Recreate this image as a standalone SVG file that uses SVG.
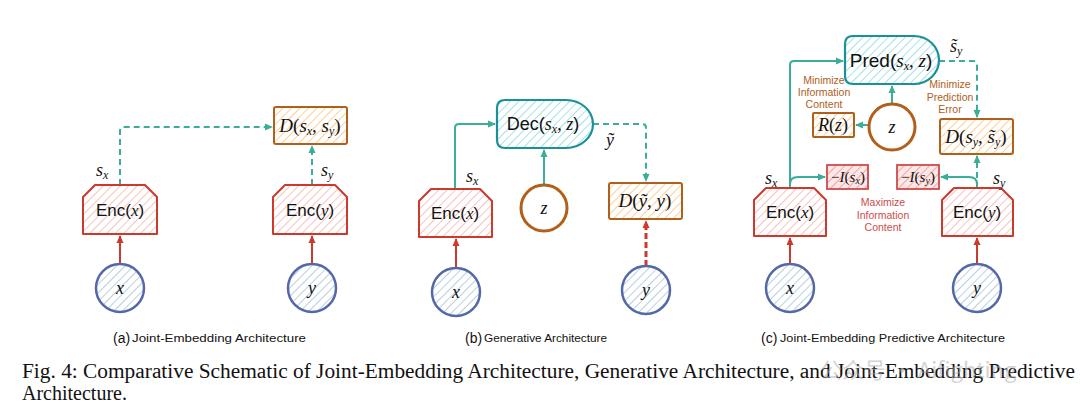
<svg xmlns="http://www.w3.org/2000/svg" width="1080" height="410" viewBox="0 0 1080 410">
<style>
.bg{fill:#fff}
.enc{stroke:#cc3a2e;stroke-width:2;fill:url(#hr);stroke-linejoin:round}
.dec{stroke:#1a9097;stroke-width:2.2;fill:url(#ht)}
.dbox{stroke:#b0601a;stroke-width:2;fill:url(#ho)}
.zc{stroke:#b0601a;stroke-width:3;fill:#fff}
.in{stroke:#5468a8;stroke-width:2.5;fill:url(#hb)}
.ibox{stroke:#d04a4a;stroke-width:1.8;fill:url(#hr2)}
.lt{fill:none;stroke:#3aae98;stroke-width:2}
.ltd{fill:none;stroke:#3aae98;stroke-width:2;stroke-dasharray:6 4}
.lr{fill:none;stroke:#cc3a2e;stroke-width:2}
.lrd{fill:none;stroke:#cc3a2e;stroke-width:3;stroke-dasharray:6 3}
.sans{font-family:"Liberation Sans","DejaVu Sans",sans-serif;fill:#111}
.m{font-family:"Liberation Serif","DejaVu Serif",serif;font-style:italic;fill:#111}
.up{font-style:normal}
.note-o{font-family:"Liberation Sans","DejaVu Sans",sans-serif;font-size:10.5px;fill:#b0601a;text-anchor:middle}
.note-r{font-family:"Liberation Sans","DejaVu Sans",sans-serif;font-size:10.5px;fill:#d04a4a;text-anchor:middle}
.cap{font-family:"Liberation Sans","DejaVu Sans",sans-serif;fill:#111}
.fig{font-family:"Liberation Serif","Times New Roman",serif;font-size:20px;fill:#111}
</style>
<defs>
<pattern id="hr" width="6" height="6" patternUnits="userSpaceOnUse" patternTransform="rotate(45)"><rect width="6" height="6" fill="#fff"/><line x1="0" y1="0" x2="0" y2="6" stroke="#f7c2c0" stroke-width="2"/></pattern>
<pattern id="hr2" width="6" height="6" patternUnits="userSpaceOnUse" patternTransform="rotate(45)"><rect width="6" height="6" fill="#fde7e7"/><line x1="0" y1="0" x2="0" y2="6" stroke="#f2a6a6" stroke-width="2"/></pattern>
<pattern id="ht" width="6" height="6" patternUnits="userSpaceOnUse" patternTransform="rotate(45)"><rect width="6" height="6" fill="#fff"/><line x1="0" y1="0" x2="0" y2="6" stroke="#a8e0e4" stroke-width="2"/></pattern>
<pattern id="ho" width="6" height="6" patternUnits="userSpaceOnUse" patternTransform="rotate(45)"><rect width="6" height="6" fill="#fff"/><line x1="0" y1="0" x2="0" y2="6" stroke="#ffcf98" stroke-width="2"/></pattern>
<pattern id="hb" width="6" height="6" patternUnits="userSpaceOnUse" patternTransform="rotate(45)"><rect width="6" height="6" fill="#fff"/><line x1="0" y1="0" x2="0" y2="6" stroke="#b9cfdf" stroke-width="2"/></pattern>
<marker id="at" markerWidth="8" markerHeight="8" refX="7" refY="4" orient="auto" markerUnits="userSpaceOnUse"><path d="M0,0.5 L8,4 L0,7.5 Z" fill="#3aae98"/></marker>
<marker id="ar" markerWidth="8" markerHeight="8" refX="7" refY="4" orient="auto" markerUnits="userSpaceOnUse"><path d="M0,0.5 L8,4 L0,7.5 Z" fill="#cc3a2e"/></marker>
</defs>
<rect class="bg" width="1080" height="410"/>

<!-- connectors -->
<g id="connectors">
 <!-- (a) -->
 <path class="lr" d="M120,264 V236" marker-end="url(#ar)"/>
 <path class="lr" d="M312,264 V236" marker-end="url(#ar)"/>
 <path class="ltd" d="M120,185 V131 Q120,127 124,127 H272" marker-end="url(#at)"/>
 <path class="ltd" d="M312,185 V146" marker-end="url(#at)"/>
 <!-- (b) -->
 <path class="lr" d="M456,268 V239" marker-end="url(#ar)"/>
 <path class="lt" d="M455,189 V128 Q455,124 459,124 H495" marker-end="url(#at)"/>
 <path class="lt" d="M544,185 V150" marker-end="url(#at)"/>
 <path class="ltd" d="M593,124 H642 Q646,124 646,128 V181" marker-end="url(#at)"/>
 <path class="lrd" d="M646,266 V221" marker-end="url(#ar)"/>
 <!-- (c) -->
 <path class="lr" d="M790,264 V238" marker-end="url(#ar)"/>
 <path class="lr" d="M977,264 V238" marker-end="url(#ar)"/>
 <path class="lt" d="M790,188 V65 Q790,61 794,61 H843" marker-end="url(#at)"/>
 <path class="lt" d="M790,184 Q790,177 798,177 H825" marker-end="url(#at)"/>
 <path class="lt" d="M977,184 Q977,177 969,177 H941" marker-end="url(#at)"/>
 <path class="ltd" d="M977,188 V156" marker-end="url(#at)"/>
 <path class="lt" d="M892,104 V86" marker-end="url(#at)"/>
 <path class="lt" d="M869,125 H856" marker-end="url(#at)"/>
 <path class="ltd" d="M939,61 H973 Q977,61 977,65 V117" marker-end="url(#at)"/>
</g>

<!-- (a) nodes -->
<g id="a-enc-x"><polygon class="enc" points="95,185 145,185 157,197 157,234 83,234 83,197"/><text x="120" y="216" text-anchor="middle" class="sans" font-size="17">Enc(<tspan class="m">x</tspan>)</text></g>
<g id="a-enc-y"><polygon class="enc" points="285,185 335,185 347,197 347,234 273,234 273,197"/><text x="310" y="216" text-anchor="middle" class="sans" font-size="17">Enc(<tspan class="m">y</tspan>)</text></g>
<g id="a-d"><rect class="dbox" x="274" y="107" width="73" height="37" rx="2"/><text x="310" y="132" text-anchor="middle" class="m" font-size="19">D<tspan class="up">(</tspan>s<tspan font-size="12" dy="3">x</tspan><tspan dy="-3">, s</tspan><tspan font-size="12" dy="3">y</tspan><tspan dy="-3" class="up">)</tspan></text></g>
<g id="a-x"><circle class="in" cx="120" cy="288" r="24"/><text x="120" y="294" text-anchor="middle" class="m" font-size="18">x</text></g>
<g id="a-y"><circle class="in" cx="312" cy="288" r="24"/><text x="312" y="294" text-anchor="middle" class="m" font-size="18">y</text></g>
<text x="96" y="176" class="m" font-size="18">s<tspan font-size="12" dy="3">x</tspan></text>
<text x="321" y="176" class="m" font-size="18">s<tspan font-size="12" dy="3">y</tspan></text>

<!-- (b) nodes -->
<g id="b-enc-x"><polygon class="enc" points="431,189 480,189 492,201 492,237 419,237 419,201"/><text x="455" y="219" text-anchor="middle" class="sans" font-size="17">Enc(<tspan class="m">x</tspan>)</text></g>
<g id="b-dec"><path class="dec" d="M505,100 H566 A27,24 0 0 1 566,148 H505 Q497,148 497,140 V108 Q497,100 505,100 Z"/><text x="543" y="130" text-anchor="middle" class="sans" font-size="18">Dec(<tspan class="m">s</tspan><tspan class="m" font-size="12" dy="3">x</tspan><tspan class="m" dy="-3">, z</tspan>)</text></g>
<g id="b-z"><circle class="zc" cx="544" cy="208" r="23"/><text x="544" y="214" text-anchor="middle" class="m" font-size="18">z</text></g>
<g id="b-d"><rect class="dbox" x="609" y="183" width="73" height="36" rx="2"/><text x="645" y="207" text-anchor="middle" class="m" font-size="19">D<tspan class="up">(</tspan>ỹ, y<tspan class="up">)</tspan></text></g>
<g id="b-x"><circle class="in" cx="456" cy="292" r="24"/><text x="456" y="298" text-anchor="middle" class="m" font-size="18">x</text></g>
<g id="b-y"><circle class="in" cx="646" cy="290" r="24"/><text x="646" y="296" text-anchor="middle" class="m" font-size="18">y</text></g>
<text x="466" y="182" class="m" font-size="18">s<tspan font-size="12" dy="3">x</tspan></text>
<text x="606" y="146" class="m" font-size="18">ỹ</text>

<!-- (c) nodes -->
<g id="c-pred"><path class="dec" d="M853,36 H914 A25,24 0 0 1 914,84 H853 Q845,84 845,76 V44 Q845,36 853,36 Z"/><text x="891" y="67" text-anchor="middle" class="sans" font-size="19">Pred(<tspan class="m">s</tspan><tspan class="m" font-size="12" dy="3">x</tspan><tspan class="m" dy="-3">, z</tspan>)</text></g>
<g id="c-z"><circle class="zc" cx="892" cy="127" r="23"/><text x="892" y="133" text-anchor="middle" class="m" font-size="18">z</text></g>
<g id="c-r"><rect class="dbox" x="813" y="113" width="41" height="24" rx="1"/><text x="833" y="131" text-anchor="middle" class="m" font-size="18">R<tspan class="up">(</tspan>z<tspan class="up">)</tspan></text></g>
<g id="c-d"><rect class="dbox" x="940" y="119" width="73" height="35" rx="2"/><text x="976" y="143" text-anchor="middle" class="m" font-size="19">D<tspan class="up">(</tspan>s<tspan font-size="12" dy="3">y</tspan><tspan dy="-3">, s̃</tspan><tspan font-size="12" dy="3">y</tspan><tspan dy="-3" class="up">)</tspan></text></g>
<g id="c-ix"><rect class="ibox" x="827" y="165" width="41" height="24"/><text x="848" y="182" text-anchor="middle" class="m" font-size="15"><tspan class="up">−</tspan>I<tspan class="up">(</tspan>s<tspan font-size="10" dy="2">x</tspan><tspan dy="-2" class="up">)</tspan></text></g>
<g id="c-iy"><rect class="ibox" x="897" y="165" width="42" height="24"/><text x="918" y="182" text-anchor="middle" class="m" font-size="15"><tspan class="up">−</tspan>I<tspan class="up">(</tspan>s<tspan font-size="10" dy="2">y</tspan><tspan dy="-2" class="up">)</tspan></text></g>
<g id="c-enc-x"><polygon class="enc" points="766,188 814,188 826,200 826,236 754,236 754,200"/><text x="790" y="218" text-anchor="middle" class="sans" font-size="17">Enc(<tspan class="m">x</tspan>)</text></g>
<g id="c-enc-y"><polygon class="enc" points="954,188 1001,188 1013,200 1013,236 942,236 942,200"/><text x="977" y="218" text-anchor="middle" class="sans" font-size="17">Enc(<tspan class="m">y</tspan>)</text></g>
<g id="c-x"><circle class="in" cx="790" cy="288" r="24"/><text x="790" y="294" text-anchor="middle" class="m" font-size="18">x</text></g>
<g id="c-y"><circle class="in" cx="977" cy="288" r="24"/><text x="977" y="294" text-anchor="middle" class="m" font-size="18">y</text></g>
<text x="950" y="52" class="m" font-size="18">s̃<tspan font-size="12" dy="3">y</tspan></text>
<text x="765" y="184" class="m" font-size="18">s<tspan font-size="12" dy="3">x</tspan></text>
<text x="993" y="184" class="m" font-size="18">s<tspan font-size="12" dy="3">y</tspan></text>
<text class="note-o"><tspan x="824" y="84">Minimize</tspan><tspan x="824" y="96">Information</tspan><tspan x="824" y="108">Content</tspan></text>
<text class="note-o"><tspan x="950" y="88">Minimize</tspan><tspan x="950" y="101">Prediction</tspan><tspan x="950" y="113">Error</tspan></text>
<text class="note-r"><tspan x="883" y="206">Maximize</tspan><tspan x="883" y="219">Information</tspan><tspan x="883" y="231">Content</tspan></text>

<!-- captions -->
<text x="113" y="343" class="cap" font-size="14">(a)</text>
<text x="132" y="342" class="cap" font-size="11" textLength="174" lengthAdjust="spacingAndGlyphs">Joint-Embedding Architecture</text>
<text x="465" y="343" class="cap" font-size="14">(b)</text>
<text x="484" y="342" class="cap" font-size="11" textLength="123" lengthAdjust="spacingAndGlyphs">Generative Architecture</text>
<text x="761" y="343" class="cap" font-size="14">(c)</text>
<text x="780" y="342" class="cap" font-size="11" textLength="225" lengthAdjust="spacingAndGlyphs">Joint-Embedding Predictive Architecture</text>
<text x="22" y="378" class="fig" textLength="1053" lengthAdjust="spacingAndGlyphs">Fig. 4: Comparative Schematic of Joint-Embedding Architecture, Generative Architecture, and Joint-Embedding Predictive</text>
<text x="22" y="400" class="fig">Architecture.</text>
<text x="820" y="378" font-family="'Noto Sans CJK SC','Liberation Sans',sans-serif" font-size="22" fill="#aaa" opacity="0.5">公众号 · Aifighting</text>
</svg>
